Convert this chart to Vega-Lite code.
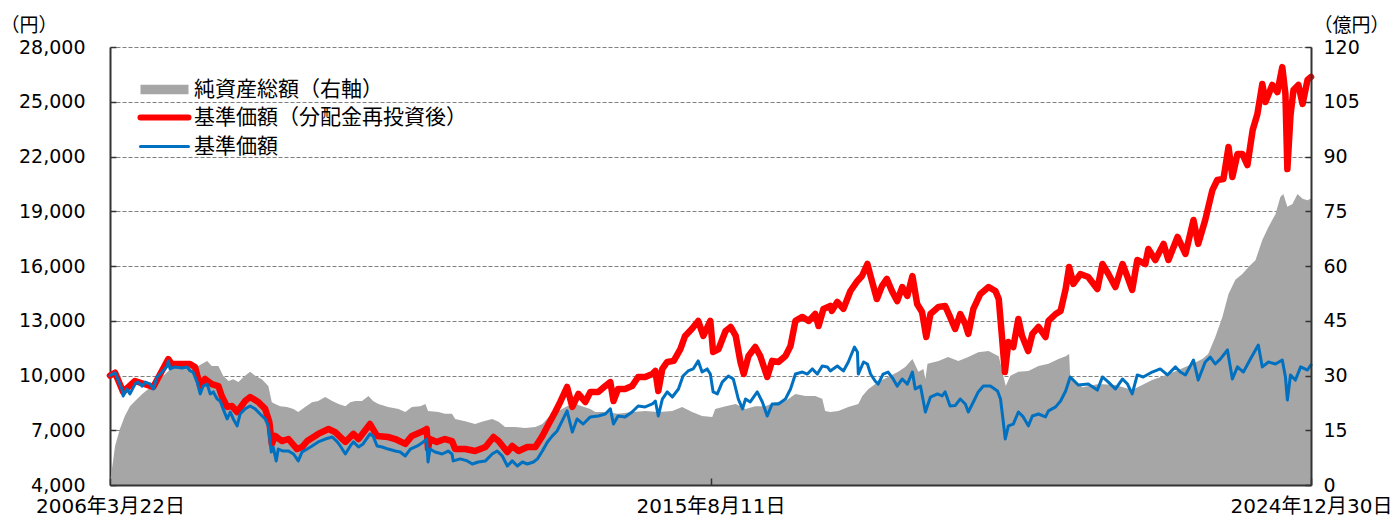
{
"$schema": "https://vega.github.io/schema/vega-lite/v6.json",
"width": 1201,
"height": 438,
"padding": {"left": 0, "top": 16, "right": 0, "bottom": 0},
"background": "white",
"config": {"view": {"stroke": null}, "font": "Noto Sans CJK JP"},
"datasets": {
"nav": [
{"date":"2006-03-22","nav":0.5},{"date":"2006-04-20","nav":10.7},{"date":"2006-05-17","nav":15.3},{"date":"2006-06-15","nav":18.9},{"date":"2006-07-14","nav":21.6},{"date":"2006-08-12","nav":23},{"date":"2006-09-22","nav":24.9},{"date":"2006-10-27","nav":26.3},{"date":"2006-12-05","nav":27.7},{"date":"2007-01-14","nav":29.6},{"date":"2007-02-18","nav":31.2},{"date":"2007-03-28","nav":32.6},{"date":"2007-05-24","nav":32.6},{"date":"2007-07-09","nav":32.3},{"date":"2007-08-09","nav":32.6},{"date":"2007-08-30","nav":33.2},{"date":"2007-09-28","nav":34},{"date":"2007-10-24","nav":32.6},{"date":"2007-12-01","nav":32.6},{"date":"2007-12-28","nav":29.9},{"date":"2008-01-28","nav":28.5},{"date":"2008-02-24","nav":29},{"date":"2008-03-24","nav":28.2},{"date":"2008-05-01","nav":29.9},{"date":"2008-05-30","nav":31},{"date":"2008-06-28","nav":29.9},{"date":"2008-08-05","nav":29},{"date":"2008-09-11","nav":27.1},{"date":"2008-10-01","nav":22.7},{"date":"2008-10-20","nav":22.2},{"date":"2008-11-18","nav":21.6},{"date":"2008-12-26","nav":21.4},{"date":"2009-02-02","nav":20.8},{"date":"2009-03-01","nav":20},{"date":"2009-04-09","nav":21.4},{"date":"2009-05-19","nav":22.7},{"date":"2009-06-23","nav":23},{"date":"2009-08-02","nav":24.1},{"date":"2009-09-11","nav":23},{"date":"2009-10-17","nav":22.2},{"date":"2009-11-25","nav":21.6},{"date":"2009-12-23","nav":22.7},{"date":"2010-01-21","nav":23},{"date":"2010-02-28","nav":23},{"date":"2010-04-06","nav":24.4},{"date":"2010-05-02","nav":23},{"date":"2010-06-02","nav":22.2},{"date":"2010-07-27","nav":21.4},{"date":"2010-09-25","nav":20.8},{"date":"2010-11-02","nav":20},{"date":"2010-12-10","nav":21.4},{"date":"2011-01-27","nav":21.6},{"date":"2011-02-25","nav":22.2},{"date":"2011-03-12","nav":20.3},{"date":"2011-05-10","nav":20},{"date":"2011-06-17","nav":19.5},{"date":"2011-07-27","nav":19.5},{"date":"2011-08-14","nav":18.1},{"date":"2011-10-10","nav":17.5},{"date":"2011-12-06","nav":16.7},{"date":"2012-01-14","nav":17.3},{"date":"2012-03-12","nav":18.1},{"date":"2012-04-18","nav":17.3},{"date":"2012-05-25","nav":15.9},{"date":"2012-07-22","nav":15.9},{"date":"2012-09-17","nav":15.6},{"date":"2012-11-14","nav":15.9},{"date":"2012-12-24","nav":16.7},{"date":"2013-01-29","nav":18.6},{"date":"2013-03-26","nav":20.3},{"date":"2013-05-14","nav":21.6},{"date":"2013-06-30","nav":22.2},{"date":"2013-08-07","nav":21.6},{"date":"2013-09-24","nav":20.8},{"date":"2013-10-22","nav":20},{"date":"2013-12-18","nav":20},{"date":"2014-03-01","nav":19.5},{"date":"2014-05-20","nav":20},{"date":"2014-08-03","nav":20.3},{"date":"2014-10-17","nav":20},{"date":"2015-01-05","nav":20.3},{"date":"2015-03-02","nav":21.4},{"date":"2015-04-28","nav":20},{"date":"2015-06-24","nav":18.9},{"date":"2015-08-21","nav":18.6},{"date":"2015-09-07","nav":20.8},{"date":"2015-11-05","nav":21.6},{"date":"2016-01-02","nav":22.2},{"date":"2016-02-27","nav":20.8},{"date":"2016-04-23","nav":21.6},{"date":"2016-06-19","nav":21.6},{"date":"2016-08-15","nav":22.7},{"date":"2016-10-12","nav":23},{"date":"2016-12-08","nav":24.9},{"date":"2017-02-04","nav":24.4},{"date":"2017-03-31","nav":24.4},{"date":"2017-05-10","nav":23.6},{"date":"2017-05-27","nav":20.3},{"date":"2017-06-25","nav":20},{"date":"2017-08-10","nav":20.3},{"date":"2017-10-06","nav":21.4},{"date":"2017-12-02","nav":22.2},{"date":"2017-12-25","nav":24.4},{"date":"2018-01-29","nav":26.3},{"date":"2018-03-25","nav":28.2},{"date":"2018-05-21","nav":29.6},{"date":"2018-07-18","nav":31},{"date":"2018-08-27","nav":32.3},{"date":"2018-10-07","nav":34.5},{"date":"2018-11-10","nav":31},{"date":"2018-12-09","nav":31.8},{"date":"2018-12-20","nav":29},{"date":"2019-01-01","nav":33.2},{"date":"2019-03-05","nav":34},{"date":"2019-04-29","nav":35.1},{"date":"2019-06-26","nav":34},{"date":"2019-08-22","nav":35.1},{"date":"2019-10-18","nav":36.4},{"date":"2019-12-16","nav":36.7},{"date":"2020-02-12","nav":35.3},{"date":"2020-03-09","nav":29.9},{"date":"2020-03-23","nav":27.1},{"date":"2020-04-18","nav":29.9},{"date":"2020-06-03","nav":31},{"date":"2020-07-30","nav":31.2},{"date":"2020-09-26","nav":32.6},{"date":"2020-11-22","nav":33.2},{"date":"2021-01-18","nav":34.5},{"date":"2021-02-28","nav":35.3},{"date":"2021-03-20","nav":35.9},{"date":"2021-03-26","nav":29.6},{"date":"2021-06-04","nav":26.8},{"date":"2021-09-04","nav":27.7},{"date":"2021-12-09","nav":27.4},{"date":"2022-03-15","nav":26},{"date":"2022-05-11","nav":27.4},{"date":"2022-07-07","nav":28.8},{"date":"2022-09-21","nav":30.1},{"date":"2022-12-04","nav":31.5},{"date":"2023-02-23","nav":33.2},{"date":"2023-04-19","nav":34.5},{"date":"2023-05-23","nav":35.9},{"date":"2023-07-02","nav":40.5},{"date":"2023-08-12","nav":46},{"date":"2023-09-16","nav":52.3},{"date":"2023-10-25","nav":56.2},{"date":"2023-12-04","nav":57.8},{"date":"2024-01-08","nav":59.7},{"date":"2024-02-17","nav":61.6},{"date":"2024-03-27","nav":67.1},{"date":"2024-05-01","nav":70.7},{"date":"2024-06-10","nav":74.2},{"date":"2024-07-08","nav":78.9},{"date":"2024-07-25","nav":79.7},{"date":"2024-08-17","nav":76.2},{"date":"2024-09-15","nav":77},{"date":"2024-10-14","nav":79.7},{"date":"2024-11-12","nav":78.4},{"date":"2024-12-10","nav":78},{"date":"2024-12-30","nav":78.5}
],
"price": [
{"date":"2006-03-22","s":"b","v":10000},{"date":"2006-04-20","s":"b","v":10150},{"date":"2006-05-29","s":"b","v":9260},{"date":"2006-06-05","s":"b","v":8880},{"date":"2006-06-27","s":"b","v":9260},{"date":"2006-07-14","s":"b","v":8990},{"date":"2006-08-12","s":"b","v":9530},{"date":"2006-08-29","s":"b","v":9640},{"date":"2006-09-22","s":"b","v":9420},{"date":"2006-10-09","s":"b","v":9640},{"date":"2006-11-07","s":"b","v":9530},{"date":"2006-11-24","s":"b","v":9260},{"date":"2006-12-16","s":"b","v":9920},{"date":"2007-01-14","s":"b","v":10190},{"date":"2007-02-12","s":"b","v":10520},{"date":"2007-02-18","s":"b","v":10800},{"date":"2007-02-28","s":"b","v":10360},{"date":"2007-03-28","s":"b","v":10470},{"date":"2007-05-07","s":"b","v":10410},{"date":"2007-06-05","s":"b","v":10470},{"date":"2007-06-22","s":"b","v":10250},{"date":"2007-07-09","s":"b","v":10190},{"date":"2007-08-02","s":"b","v":9640},{"date":"2007-08-19","s":"b","v":8990},{"date":"2007-09-05","s":"b","v":9420},{"date":"2007-09-28","s":"b","v":9530},{"date":"2007-10-15","s":"b","v":8990},{"date":"2007-11-02","s":"b","v":9100},{"date":"2007-11-24","s":"b","v":8710},{"date":"2007-12-11","s":"b","v":8600},{"date":"2007-12-28","s":"b","v":8170},{"date":"2008-01-20","s":"b","v":7620},{"date":"2008-02-07","s":"b","v":8000},{"date":"2008-02-24","s":"b","v":7620},{"date":"2008-03-17","s":"b","v":7240},{"date":"2008-04-03","s":"b","v":7890},{"date":"2008-05-01","s":"b","v":8170},{"date":"2008-05-30","s":"b","v":8330},{"date":"2008-06-28","s":"b","v":8170},{"date":"2008-07-26","s":"b","v":7890},{"date":"2008-08-24","s":"b","v":7620},{"date":"2008-09-11","s":"b","v":7240},{"date":"2008-09-28","s":"b","v":5810},{"date":"2008-10-09","s":"b","v":6080},{"date":"2008-10-26","s":"b","v":5320},{"date":"2008-11-07","s":"b","v":5970},{"date":"2008-12-05","s":"b","v":5860},{"date":"2009-01-04","s":"b","v":5860},{"date":"2009-02-02","s":"b","v":5700},{"date":"2009-03-01","s":"b","v":5320},{"date":"2009-03-23","s":"b","v":5810},{"date":"2009-04-21","s":"b","v":5970},{"date":"2009-05-19","s":"b","v":6140},{"date":"2009-06-23","s":"b","v":6360},{"date":"2009-08-02","s":"b","v":6520},{"date":"2009-09-11","s":"b","v":6630},{"date":"2009-10-10","s":"b","v":6360},{"date":"2009-10-27","s":"b","v":6140},{"date":"2009-11-25","s":"b","v":5700},{"date":"2009-12-23","s":"b","v":6140},{"date":"2010-01-10","s":"b","v":6360},{"date":"2010-02-08","s":"b","v":6080},{"date":"2010-03-06","s":"b","v":6250},{"date":"2010-04-15","s":"b","v":6800},{"date":"2010-05-02","s":"b","v":6690},{"date":"2010-05-25","s":"b","v":6140},{"date":"2010-06-23","s":"b","v":6080},{"date":"2010-07-27","s":"b","v":5970},{"date":"2010-09-06","s":"b","v":5860},{"date":"2010-10-04","s":"b","v":5810},{"date":"2010-11-02","s":"b","v":5590},{"date":"2010-12-01","s":"b","v":5970},{"date":"2011-01-10","s":"b","v":6140},{"date":"2011-02-13","s":"b","v":6360},{"date":"2011-03-04","s":"b","v":6520},{"date":"2011-03-12","s":"b","v":5260},{"date":"2011-03-23","s":"b","v":5970},{"date":"2011-04-21","s":"b","v":5810},{"date":"2011-06-01","s":"b","v":5700},{"date":"2011-07-05","s":"b","v":5860},{"date":"2011-07-27","s":"b","v":5700},{"date":"2011-08-03","s":"b","v":5320},{"date":"2011-09-12","s":"b","v":5430},{"date":"2011-10-22","s":"b","v":5320},{"date":"2011-11-20","s":"b","v":5150},{"date":"2011-12-24","s":"b","v":5260},{"date":"2012-02-03","s":"b","v":5320},{"date":"2012-03-12","s":"b","v":5700},{"date":"2012-04-10","s":"b","v":5860},{"date":"2012-05-09","s":"b","v":5590},{"date":"2012-06-07","s":"b","v":5040},{"date":"2012-07-05","s":"b","v":5320},{"date":"2012-08-03","s":"b","v":5040},{"date":"2012-09-01","s":"b","v":5260},{"date":"2012-09-29","s":"b","v":5150},{"date":"2012-11-03","s":"b","v":5260},{"date":"2012-11-26","s":"b","v":5430},{"date":"2012-12-24","s":"b","v":5860},{"date":"2013-01-22","s":"b","v":6360},{"date":"2013-02-19","s":"b","v":6690},{"date":"2013-03-18","s":"b","v":6960},{"date":"2013-04-16","s":"b","v":7510},{"date":"2013-05-14","s":"b","v":8060},{"date":"2013-06-13","s":"b","v":6900},{"date":"2013-07-10","s":"b","v":7620},{"date":"2013-08-14","s":"b","v":7340},{"date":"2013-09-24","s":"b","v":7730},{"date":"2013-11-08","s":"b","v":7780},{"date":"2013-12-18","s":"b","v":7890},{"date":"2014-01-16","s":"b","v":8170},{"date":"2014-02-03","s":"b","v":7340},{"date":"2014-03-01","s":"b","v":7780},{"date":"2014-04-10","s":"b","v":7730},{"date":"2014-05-20","s":"b","v":8000},{"date":"2014-06-24","s":"b","v":8330},{"date":"2014-08-03","s":"b","v":8280},{"date":"2014-09-13","s":"b","v":8440},{"date":"2014-09-30","s":"b","v":8600},{"date":"2014-10-17","s":"b","v":7780},{"date":"2014-11-09","s":"b","v":8710},{"date":"2014-12-07","s":"b","v":9100},{"date":"2015-01-05","s":"b","v":8820},{"date":"2015-02-09","s":"b","v":9260},{"date":"2015-03-07","s":"b","v":9970},{"date":"2015-04-05","s":"b","v":10250},{"date":"2015-05-04","s":"b","v":10360},{"date":"2015-06-02","s":"b","v":10800},{"date":"2015-06-24","s":"b","v":10190},{"date":"2015-07-23","s":"b","v":10360},{"date":"2015-08-10","s":"b","v":10080},{"date":"2015-08-26","s":"b","v":9100},{"date":"2015-09-19","s":"b","v":8990},{"date":"2015-10-17","s":"b","v":9640},{"date":"2015-11-21","s":"b","v":9970},{"date":"2015-12-19","s":"b","v":9810},{"date":"2016-01-17","s":"b","v":8710},{"date":"2016-02-10","s":"b","v":8170},{"date":"2016-02-27","s":"b","v":8710},{"date":"2016-03-25","s":"b","v":8550},{"date":"2016-05-04","s":"b","v":9100},{"date":"2016-06-02","s":"b","v":8550},{"date":"2016-06-30","s":"b","v":7780},{"date":"2016-07-28","s":"b","v":8440},{"date":"2016-09-02","s":"b","v":8440},{"date":"2016-10-12","s":"b","v":8710},{"date":"2016-11-10","s":"b","v":9260},{"date":"2016-12-08","s":"b","v":10080},{"date":"2017-01-17","s":"b","v":10190},{"date":"2017-02-14","s":"b","v":10080},{"date":"2017-03-14","s":"b","v":10360},{"date":"2017-04-12","s":"b","v":10080},{"date":"2017-05-10","s":"b","v":10520},{"date":"2017-06-08","s":"b","v":10470},{"date":"2017-06-25","s":"b","v":10250},{"date":"2017-08-04","s":"b","v":10520},{"date":"2017-09-08","s":"b","v":10250},{"date":"2017-10-06","s":"b","v":10740},{"date":"2017-11-10","s":"b","v":11560},{"date":"2017-11-27","s":"b","v":11290},{"date":"2017-12-02","s":"b","v":10080},{"date":"2018-01-01","s":"b","v":10740},{"date":"2018-01-23","s":"b","v":10630},{"date":"2018-02-10","s":"b","v":10080},{"date":"2018-03-08","s":"b","v":9700},{"date":"2018-03-25","s":"b","v":9530},{"date":"2018-04-23","s":"b","v":10080},{"date":"2018-05-21","s":"b","v":10190},{"date":"2018-06-19","s":"b","v":9810},{"date":"2018-07-12","s":"b","v":9420},{"date":"2018-08-10","s":"b","v":9810},{"date":"2018-09-08","s":"b","v":9530},{"date":"2018-10-07","s":"b","v":10190},{"date":"2018-10-23","s":"b","v":9260},{"date":"2018-11-22","s":"b","v":9420},{"date":"2018-12-20","s":"b","v":8000},{"date":"2019-01-18","s":"b","v":8820},{"date":"2019-02-27","s":"b","v":8990},{"date":"2019-03-26","s":"b","v":8880},{"date":"2019-04-12","s":"b","v":9100},{"date":"2019-05-10","s":"b","v":8330},{"date":"2019-06-08","s":"b","v":8350},{"date":"2019-07-07","s":"b","v":8710},{"date":"2019-08-05","s":"b","v":8440},{"date":"2019-08-22","s":"b","v":8000},{"date":"2019-09-20","s":"b","v":8550},{"date":"2019-10-18","s":"b","v":9100},{"date":"2019-11-16","s":"b","v":9420},{"date":"2019-12-26","s":"b","v":9420},{"date":"2020-02-05","s":"b","v":9150},{"date":"2020-02-22","s":"b","v":8710},{"date":"2020-03-09","s":"b","v":7450},{"date":"2020-03-20","s":"b","v":6520},{"date":"2020-04-07","s":"b","v":7240},{"date":"2020-05-05","s":"b","v":7340},{"date":"2020-06-03","s":"b","v":8000},{"date":"2020-07-01","s":"b","v":7730},{"date":"2020-07-30","s":"b","v":7240},{"date":"2020-08-22","s":"b","v":7780},{"date":"2020-09-26","s":"b","v":7890},{"date":"2020-11-05","s":"b","v":7730},{"date":"2020-11-22","s":"b","v":8060},{"date":"2021-01-02","s":"b","v":8280},{"date":"2021-01-30","s":"b","v":8600},{"date":"2021-02-28","s":"b","v":9150},{"date":"2021-03-26","s":"b","v":9920},{"date":"2021-05-11","s":"b","v":9480},{"date":"2021-07-07","s":"b","v":9530},{"date":"2021-08-28","s":"b","v":9200},{"date":"2021-09-26","s":"b","v":9920},{"date":"2021-10-30","s":"b","v":9640},{"date":"2021-12-09","s":"b","v":9260},{"date":"2022-01-19","s":"b","v":9810},{"date":"2022-02-16","s":"b","v":9530},{"date":"2022-03-15","s":"b","v":8990},{"date":"2022-04-13","s":"b","v":10030},{"date":"2022-05-17","s":"b","v":9920},{"date":"2022-07-07","s":"b","v":10190},{"date":"2022-08-22","s":"b","v":10360},{"date":"2022-10-02","s":"b","v":10030},{"date":"2022-11-17","s":"b","v":10470},{"date":"2022-12-15","s":"b","v":10190},{"date":"2023-01-13","s":"b","v":10030},{"date":"2023-02-28","s":"b","v":10850},{"date":"2023-03-27","s":"b","v":9750},{"date":"2023-05-06","s":"b","v":10740},{"date":"2023-06-04","s":"b","v":11010},{"date":"2023-07-02","s":"b","v":10630},{"date":"2023-07-31","s":"b","v":10900},{"date":"2023-09-10","s":"b","v":11400},{"date":"2023-10-08","s":"b","v":9810},{"date":"2023-11-06","s":"b","v":10470},{"date":"2023-12-10","s":"b","v":10190},{"date":"2024-01-19","s":"b","v":10900},{"date":"2024-03-04","s":"b","v":11670},{"date":"2024-03-27","s":"b","v":10470},{"date":"2024-05-01","s":"b","v":10740},{"date":"2024-06-10","s":"b","v":10630},{"date":"2024-07-19","s":"b","v":10850},{"date":"2024-08-06","s":"b","v":9920},{"date":"2024-08-17","s":"b","v":8660},{"date":"2024-09-04","s":"b","v":10030},{"date":"2024-10-02","s":"b","v":9750},{"date":"2024-11-01","s":"b","v":10470},{"date":"2024-12-10","s":"b","v":10300},{"date":"2024-12-30","s":"b","v":10580},
{"date":"2006-03-22","s":"r","v":10000},{"date":"2006-04-20","s":"r","v":10150},{"date":"2006-06-05","s":"r","v":9100},{"date":"2006-08-12","s":"r","v":9700},{"date":"2006-11-24","s":"r","v":9370},{"date":"2007-02-18","s":"r","v":10900},{"date":"2007-03-09","s":"r","v":10630},{"date":"2007-06-22","s":"r","v":10630},{"date":"2007-07-20","s":"r","v":10470},{"date":"2007-08-19","s":"r","v":9420},{"date":"2007-09-16","s":"r","v":9810},{"date":"2007-10-24","s":"r","v":9530},{"date":"2007-12-01","s":"r","v":9420},{"date":"2007-12-20","s":"r","v":8880},{"date":"2008-01-20","s":"r","v":8280},{"date":"2008-02-16","s":"r","v":8330},{"date":"2008-03-17","s":"r","v":8000},{"date":"2008-05-01","s":"r","v":8600},{"date":"2008-05-30","s":"r","v":8820},{"date":"2008-07-16","s":"r","v":8550},{"date":"2008-08-24","s":"r","v":8170},{"date":"2008-09-17","s":"r","v":7450},{"date":"2008-10-01","s":"r","v":6250},{"date":"2008-10-20","s":"r","v":6690},{"date":"2008-11-27","s":"r","v":6410},{"date":"2009-01-04","s":"r","v":6520},{"date":"2009-02-22","s":"r","v":5970},{"date":"2009-03-23","s":"r","v":6080},{"date":"2009-04-21","s":"r","v":6410},{"date":"2009-06-23","s":"r","v":6800},{"date":"2009-08-21","s":"r","v":7070},{"date":"2009-09-28","s":"r","v":6900},{"date":"2009-11-25","s":"r","v":6360},{"date":"2009-12-23","s":"r","v":6630},{"date":"2010-01-10","s":"r","v":6800},{"date":"2010-02-08","s":"r","v":6520},{"date":"2010-04-15","s":"r","v":7340},{"date":"2010-05-25","s":"r","v":6690},{"date":"2010-07-27","s":"r","v":6630},{"date":"2010-09-06","s":"r","v":6520},{"date":"2010-11-02","s":"r","v":6250},{"date":"2010-12-10","s":"r","v":6690},{"date":"2011-02-13","s":"r","v":6960},{"date":"2011-03-04","s":"r","v":7070},{"date":"2011-03-12","s":"r","v":6000},{"date":"2011-03-23","s":"r","v":6520},{"date":"2011-05-01","s":"r","v":6360},{"date":"2011-06-17","s":"r","v":6520},{"date":"2011-07-27","s":"r","v":6410},{"date":"2011-08-14","s":"r","v":5970},{"date":"2011-10-10","s":"r","v":5970},{"date":"2011-12-06","s":"r","v":5860},{"date":"2012-02-03","s":"r","v":6080},{"date":"2012-03-20","s":"r","v":6630},{"date":"2012-04-18","s":"r","v":6410},{"date":"2012-06-07","s":"r","v":5810},{"date":"2012-07-05","s":"r","v":6140},{"date":"2012-08-10","s":"r","v":5860},{"date":"2012-09-29","s":"r","v":6080},{"date":"2012-11-14","s":"r","v":6080},{"date":"2012-12-24","s":"r","v":6690},{"date":"2013-01-29","s":"r","v":7340},{"date":"2013-03-07","s":"r","v":8000},{"date":"2013-04-05","s":"r","v":8550},{"date":"2013-05-14","s":"r","v":9370},{"date":"2013-06-13","s":"r","v":8280},{"date":"2013-07-18","s":"r","v":8990},{"date":"2013-08-26","s":"r","v":8550},{"date":"2013-09-24","s":"r","v":9100},{"date":"2013-11-08","s":"r","v":9100},{"date":"2013-12-18","s":"r","v":9420},{"date":"2014-01-16","s":"r","v":9640},{"date":"2014-02-03","s":"r","v":8600},{"date":"2014-03-01","s":"r","v":9260},{"date":"2014-04-10","s":"r","v":9260},{"date":"2014-05-20","s":"r","v":9420},{"date":"2014-06-24","s":"r","v":9920},{"date":"2014-08-03","s":"r","v":9920},{"date":"2014-09-13","s":"r","v":10080},{"date":"2014-09-30","s":"r","v":10250},{"date":"2014-10-17","s":"r","v":9150},{"date":"2014-11-09","s":"r","v":10360},{"date":"2014-12-07","s":"r","v":10740},{"date":"2015-01-13","s":"r","v":10800},{"date":"2015-02-20","s":"r","v":11450},{"date":"2015-03-19","s":"r","v":12170},{"date":"2015-04-26","s":"r","v":12550},{"date":"2015-06-02","s":"r","v":12990},{"date":"2015-07-01","s":"r","v":12170},{"date":"2015-08-10","s":"r","v":12990},{"date":"2015-08-26","s":"r","v":11290},{"date":"2015-09-26","s":"r","v":11450},{"date":"2015-11-05","s":"r","v":12440},{"date":"2015-12-04","s":"r","v":12660},{"date":"2016-01-02","s":"r","v":12170},{"date":"2016-01-29","s":"r","v":10740},{"date":"2016-02-17","s":"r","v":10080},{"date":"2016-03-15","s":"r","v":11070},{"date":"2016-04-23","s":"r","v":11560},{"date":"2016-05-21","s":"r","v":11070},{"date":"2016-06-30","s":"r","v":9920},{"date":"2016-07-28","s":"r","v":10800},{"date":"2016-09-02","s":"r","v":10740},{"date":"2016-10-12","s":"r","v":11070},{"date":"2016-11-10","s":"r","v":11620},{"date":"2016-12-08","s":"r","v":12990},{"date":"2017-01-17","s":"r","v":13210},{"date":"2017-02-22","s":"r","v":12990},{"date":"2017-03-31","s":"r","v":13370},{"date":"2017-04-19","s":"r","v":12710},{"date":"2017-05-17","s":"r","v":13650},{"date":"2017-06-25","s":"r","v":13810},{"date":"2017-07-04","s":"r","v":13540},{"date":"2017-08-04","s":"r","v":14030},{"date":"2017-09-08","s":"r","v":13650},{"date":"2017-10-18","s":"r","v":14630},{"date":"2017-11-27","s":"r","v":15180},{"date":"2017-12-23","s":"r","v":15450},{"date":"2018-01-23","s":"r","v":16110},{"date":"2018-02-10","s":"r","v":15450},{"date":"2018-03-18","s":"r","v":14190},{"date":"2018-04-16","s":"r","v":14900},{"date":"2018-05-14","s":"r","v":15290},{"date":"2018-06-12","s":"r","v":14630},{"date":"2018-07-12","s":"r","v":14080},{"date":"2018-08-10","s":"r","v":14850},{"date":"2018-09-08","s":"r","v":14360},{"date":"2018-10-07","s":"r","v":15450},{"date":"2018-11-03","s":"r","v":13920},{"date":"2018-12-01","s":"r","v":13480},{"date":"2018-12-25","s":"r","v":12110},{"date":"2019-01-18","s":"r","v":13370},{"date":"2019-03-05","s":"r","v":13760},{"date":"2019-04-12","s":"r","v":13810},{"date":"2019-05-10","s":"r","v":13210},{"date":"2019-06-08","s":"r","v":12550},{"date":"2019-07-07","s":"r","v":13370},{"date":"2019-08-05","s":"r","v":12820},{"date":"2019-08-22","s":"r","v":12280},{"date":"2019-09-20","s":"r","v":13650},{"date":"2019-10-30","s":"r","v":14470},{"date":"2019-12-16","s":"r","v":14850},{"date":"2020-01-24","s":"r","v":14630},{"date":"2020-02-12","s":"r","v":14190},{"date":"2020-03-01","s":"r","v":12170},{"date":"2020-03-18","s":"r","v":10190},{"date":"2020-04-07","s":"r","v":11840},{"date":"2020-05-05","s":"r","v":11560},{"date":"2020-06-03","s":"r","v":13100},{"date":"2020-06-24","s":"r","v":12170},{"date":"2020-07-29","s":"r","v":11340},{"date":"2020-08-22","s":"r","v":12280},{"date":"2020-09-26","s":"r","v":12660},{"date":"2020-11-05","s":"r","v":12110},{"date":"2020-11-22","s":"r","v":12990},{"date":"2021-01-02","s":"r","v":13370},{"date":"2021-01-30","s":"r","v":13540},{"date":"2021-02-28","s":"r","v":14740},{"date":"2021-03-20","s":"r","v":15950},{"date":"2021-04-13","s":"r","v":15020},{"date":"2021-05-23","s":"r","v":15560},{"date":"2021-07-07","s":"r","v":15400},{"date":"2021-08-28","s":"r","v":14740},{"date":"2021-09-26","s":"r","v":16110},{"date":"2021-10-30","s":"r","v":15560},{"date":"2021-12-09","s":"r","v":14850},{"date":"2022-01-19","s":"r","v":16110},{"date":"2022-02-16","s":"r","v":15400},{"date":"2022-03-15","s":"r","v":14690},{"date":"2022-04-13","s":"r","v":16330},{"date":"2022-05-29","s":"r","v":16110},{"date":"2022-06-15","s":"r","v":16930},{"date":"2022-07-25","s":"r","v":16330},{"date":"2022-09-10","s":"r","v":17210},{"date":"2022-10-08","s":"r","v":16330},{"date":"2022-11-29","s":"r","v":17590},{"date":"2023-01-13","s":"r","v":16660},{"date":"2023-02-28","s":"r","v":18520},{"date":"2023-03-27","s":"r","v":17210},{"date":"2023-05-06","s":"r","v":18520},{"date":"2023-06-16","s":"r","v":20160},{"date":"2023-07-14","s":"r","v":20710},{"date":"2023-08-18","s":"r","v":20770},{"date":"2023-09-16","s":"r","v":22520},{"date":"2023-10-08","s":"r","v":20880},{"date":"2023-11-06","s":"r","v":22140},{"date":"2023-12-04","s":"r","v":22140},{"date":"2024-01-02","s":"r","v":21530},{"date":"2024-02-01","s":"r","v":23450},{"date":"2024-02-28","s":"r","v":24330},{"date":"2024-03-27","s":"r","v":25970},{"date":"2024-04-14","s":"r","v":24990},{"date":"2024-05-23","s":"r","v":25920},{"date":"2024-06-21","s":"r","v":25530},{"date":"2024-07-19","s":"r","v":26900},{"date":"2024-08-06","s":"r","v":25420},{"date":"2024-08-17","s":"r","v":21310},{"date":"2024-09-04","s":"r","v":24270},{"date":"2024-09-21","s":"r","v":25640},{"date":"2024-10-19","s":"r","v":25920},{"date":"2024-11-12","s":"r","v":24880},{"date":"2024-12-10","s":"r","v":26190},{"date":"2024-12-30","s":"r","v":26360}
]
},
"encoding": {
  "x": {"field": "date", "type": "temporal",
    "scale": {"type": "utc", "domain": [{"year": 2006, "month": 3, "date": 22, "utc": true}, {"year": 2024, "month": 12, "date": 30, "utc": true}]},
    "axis": {"title": null, "values": [{"year": 2006, "month": 3, "date": 22, "utc": true}, {"year": 2015, "month": 8, "date": 11, "utc": true}, {"year": 2024, "month": 12, "date": 30, "utc": true}],
      "labelExpr": "utcFormat(datum.value, '%Y年%-m月%-d日')", "labelFlush": false, "labelOverlap": false,
      "labelFont": "DejaVu Sans, Noto Sans CJK JP", "labelFontSize": 20, "labelColor": "#000", "labelBaseline": "top", "labelPadding": 18,
      "tickSize": -7, "tickColor": "#333", "tickWidth": 1.5,
      "domainColor": "#333", "domainWidth": 2, "grid": false, "zindex": 1}
  }
},
"layer": [
  {
    "data": {"name": "nav"},
    "mark": {"type": "area", "interpolate": "linear"},
    "encoding": {
      "y": {"field": "nav", "type": "quantitative", "stack": null,
        "scale": {"domain": [0, 120], "nice": false, "zero": false},
        "axis": {"orient": "right", "values": [0, 15, 30, 45, 60, 75, 90, 105, 120],
          "title": "（億円）", "titleAngle": 0, "titleAlign": "left", "titleBaseline": "middle", "titleX": 2, "titleY": -22,
          "titleFont": "Noto Sans CJK JP", "titleFontSize": 19, "titleFontWeight": "normal", "titleColor": "#000",
          "labelFont": "DejaVu Sans", "labelFontSize": 19, "labelColor": "#000", "labelPadding": 18,
          "tickSize": -6, "tickColor": "#333", "tickWidth": 1.5,
          "domainColor": "#333", "domainWidth": 2, "grid": false, "zindex": 1}},
      "color": {"datum": "純資産総額（右軸）", "type": "nominal",
        "scale": {"domain": ["純資産総額（右軸）", "基準価額（分配金再投資後）", "基準価額"], "range": ["#a6a6a6", "#ff0000", "#0070c0"]},
        "legend": {"orient": "none", "legendX": 44, "legendY": 32, "title": null, "padding": 0,
          "symbolType": "M-4,0L4,0", "symbolSize": 144, "symbolStrokeWidth": 6,
          "labelFont": "Noto Sans CJK JP", "labelFontSize": 21, "labelColor": "#000", "labelOffset": 19, "labelLimit": 500, "rowPadding": 5,
          "encode": {"symbols": {"update": {
            "shape": {"signal": "datum.value === '純資産総額（右軸）' ? 'M-4,-0.8L4,-0.8L4,0.8L-4,0.8Z' : 'M-4,0L4,0'"},
            "fill": {"signal": "datum.value === '純資産総額（右軸）' ? '#a6a6a6' : 'transparent'"},
            "stroke": {"signal": "datum.value === '純資産総額（右軸）' ? 'transparent' : datum.value === '基準価額' ? '#0070c0' : '#ff0000'"},
            "strokeWidth": {"signal": "datum.value === '純資産総額（右軸）' ? 0 : datum.value === '基準価額' ? 3 : 6"},
            "strokeCap": {"value": "round"},
            "opacity": {"value": 1}}}}}
      }
    }
  },
  {
    "data": {"name": "price"},
    "layer": [
      {
        "transform": [{"filter": "datum.s === 'r'"}],
        "mark": {"type": "line", "strokeWidth": 6.5, "strokeJoin": "round", "strokeCap": "round"},
        "encoding": {
          "y": {"field": "v", "type": "quantitative",
            "scale": {"domain": [4000, 28000], "nice": false, "zero": false},
            "axis": {"orient": "left", "values": [4000, 7000, 10000, 13000, 16000, 19000, 22000, 25000, 28000], "format": ",d",
              "title": "（円）", "titleAngle": 0, "titleAlign": "left", "titleBaseline": "middle", "titleX": -110, "titleY": -22,
              "titleFont": "Noto Sans CJK JP", "titleFontSize": 19, "titleFontWeight": "normal", "titleColor": "#000",
              "labelFont": "DejaVu Sans", "labelFontSize": 19, "labelColor": "#000", "labelPadding": 31,
              "tickSize": -6, "tickColor": "#333", "tickWidth": 1.5,
              "domainColor": "#333", "domainWidth": 2,
              "grid": true, "gridColor": "#7f7f7f", "gridDash": [4, 2], "gridWidth": 1, "zindex": 0}},
          "color": {"datum": "基準価額（分配金再投資後）", "type": "nominal"}
        }
      },
      {
        "transform": [{"filter": "datum.s === 'b'"}],
        "mark": {"type": "line", "strokeWidth": 3, "strokeJoin": "round", "strokeCap": "round"},
        "encoding": {
          "y": {"field": "v", "type": "quantitative"},
          "color": {"datum": "基準価額", "type": "nominal"}
        }
      }
    ]
  }
],
"resolve": {"scale": {"y": "independent"}}
}
